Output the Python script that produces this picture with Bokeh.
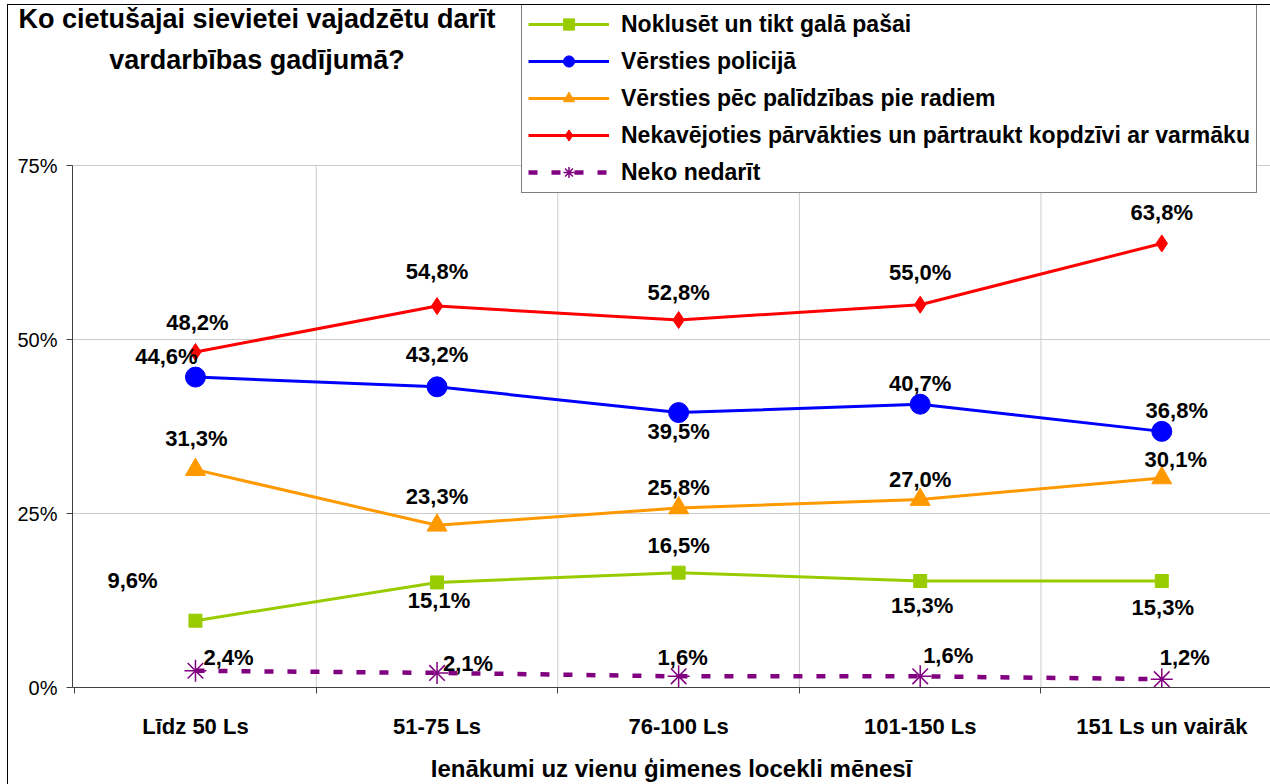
from bokeh.plotting import figure
from bokeh.layouts import column
from bokeh.models import (Range1d, FixedTicker, Legend, LegendItem, LabelSet,
                          ColumnDataSource, Div)
from bokeh.core.properties import value
from bokeh.embed import file_html
from bokeh.resources import INLINE

categories = ["Līdz 50 Ls", "51-75 Ls", "76-100 Ls", "101-150 Ls", "151 Ls un vairāk"]
series_names = [
    "Noklusēt un tikt galā pašai",
    "Vērsties policijā",
    "Vērsties pēc palīdzības pie radiem",
    "Nekavējoties pārvākties un pārtraukt kopdzīvi ar varmāku",
    "Neko nedarīt",
]
noklusēt = [9.6, 15.1, 16.5, 15.3, 15.3]
policija = [44.6, 43.2, 39.5, 40.7, 36.8]
radi = [31.3, 23.3, 25.8, 27.0, 30.1]
pārvākties = [48.2, 54.8, 52.8, 55.0, 63.8]
neko = [2.4, 2.1, 1.6, 1.6, 1.2]
y_ticks = [0, 25, 50, 75]
y_tick_labels = ["0%", "25%", "50%", "75%"]
title_lines = ["Ko cietušajai sievietei vajadzētu darīt", "vardarbības gadījumā?"]
x_title = "Ienākumi uz vienu ģimenes locekli mēnesī"

# styles
colors = ["#99CC00", "#0000FF", "#FF9900", "#FF0000", "#800080"]
markers = ["square", "circle", "triangle", "diamond", "asterisk"]
msizes = [13, 20, 20, 17, 22]
dashes = ["solid", "solid", "solid", "solid", "9 14"]
lwidths = [3, 3, 3, 3, 4.5]
label_dx = [
    [-63, 2, 0, 2, 1],
    [-29, 0, 0, 0, 15],
    [1, 0, 0, 0, 14],
    [2, 0, 0, 0, 0],
    [33, 31, 4, 28, 23],
]
label_dy = [
    [40, -18, 27, -24, -26],
    [21, 32, -19, 21, 21],
    [31, 29, 20, 20, 19],
    [30, 35, 28, 32, 31],
    [13, 9, 19, 21, 22],
]

FONT = "Liberation Sans"
AX = "#404040"
GRID = "#CCCCCC"
xs = list(range(len(categories)))
all_series = [noklusēt, policija, radi, pārvākties, neko]

# frame spans from the top of the chart area; 0..75 % occupies the lower 522 px
y_top = y_ticks[-1] * 682 / 522

p = figure(width=1262, height=779, output_backend="svg", toolbar_location=None,
           x_range=Range1d(-0.509, 4.45), y_range=Range1d(0, y_top),
           min_border_left=64, min_border_right=0, min_border_top=0, min_border_bottom=97)
p.outline_line_color = None
p.background_fill_color = None
p.border_fill_color = None
p.styles = {"margin-top": "-90px"}

# x axis
p.xaxis.ticker = FixedTicker(ticks=xs, minor_ticks=[-0.5, 0.5, 1.5, 2.5, 3.5])
p.xaxis.major_label_overrides = {i: c for i, c in enumerate(categories)}
p.xaxis.major_tick_line_color = None
p.xaxis.minor_tick_in = 0
p.xaxis.minor_tick_out = 6
p.xaxis.minor_tick_line_color = AX
p.xaxis.axis_line_color = AX
p.xaxis.major_label_text_font = FONT
p.xaxis.major_label_text_font_style = "bold"
p.xaxis.major_label_text_font_size = "22px"
p.xaxis.major_label_text_color = "black"
p.xaxis.major_label_standoff = 20
p.xaxis.axis_label = x_title
p.xaxis.axis_label_text_font = FONT
p.xaxis.axis_label_text_font_style = "bold"
p.xaxis.axis_label_text_font_size = "24px"
p.xaxis.axis_label_text_color = "black"
p.xaxis.axis_label_standoff = 13

# y axis
p.yaxis.ticker = FixedTicker(ticks=y_ticks, minor_ticks=[])
p.yaxis.bounds = (y_ticks[0], y_ticks[-1])
p.yaxis.major_label_overrides = {t: l for t, l in zip(y_ticks, y_tick_labels)}
p.yaxis.major_tick_in = 0
p.yaxis.major_tick_out = 6
p.yaxis.major_tick_line_color = AX
p.yaxis.axis_line_color = AX
p.yaxis.major_label_text_font = FONT
p.yaxis.major_label_text_font_size = "20px"
p.yaxis.major_label_text_color = "black"
p.yaxis.major_label_standoff = 9

p.xgrid.grid_line_color = None
p.ygrid.grid_line_color = GRID
# vertical gridlines between categories, limited to the 0-75 % area
bounds_x = [i + 0.5 for i in range(len(categories) - 1)]
p.segment(x0=bounds_x, x1=bounds_x, y0=[y_ticks[0]] * len(bounds_x),
          y1=[y_ticks[-1]] * len(bounds_x), line_color=GRID, line_width=1, level="underlay")

items = []
for i, (name, vals) in enumerate(zip(series_names, all_series)):
    src = ColumnDataSource(dict(
        x=xs, y=vals,
        txt=[f"{v:.1f}".replace(".", ",") + "%" for v in vals],
        dx=label_dx[i], dy=label_dy[i]))
    ln = p.line("x", "y", source=src, line_color=colors[i], line_width=lwidths[i],
                line_dash=dashes[i])
    kw = dict(line_color=colors[i], fill_color=colors[i])
    if markers[i] == "asterisk":
        kw["line_width"] = 1.5
    sc = p.scatter("x", "y", source=src, marker=markers[i], size=msizes[i], **kw)
    items.append(LegendItem(label=name, renderers=[ln, sc]))
    p.add_layout(LabelSet(x="x", y="y", text="txt", source=src, x_offset="dx", y_offset="dy",
                          text_align="center", text_baseline="middle", text_font=value(FONT),
                          text_font_style="bold", text_font_size="22px", text_color="black"))

legend = Legend(items=items, orientation="vertical", location=(449, 494),
                label_text_font=FONT, label_text_font_style="bold", label_text_font_size="23px",
                label_text_color="black", glyph_width=81, glyph_height=28, label_height=28,
                spacing=9, padding=6, margin=0, label_standoff=12,
                border_line_color="black", border_line_width=1.5,
                background_fill_color="white", background_fill_alpha=1)
p.add_layout(legend, "center")

title_div = Div(
    text=('<div style="font-family:\'Liberation Sans\';font-weight:bold;font-size:27px;'
          'color:black;text-align:center;line-height:41px;margin-top:-11px;'
          'width:488px;margin-left:0px;white-space:nowrap;">'
          + title_lines[0] + "<br>" + title_lines[1] + "</div>"),
    width=488, height=80)

layout = column(title_div, p,
                styles={"margin-left": "7px", "margin-top": "4px",
                        "border-left": "1px solid black", "border-top": "1px solid black"})

open("out.html", "w").write(file_html(layout, INLINE))
